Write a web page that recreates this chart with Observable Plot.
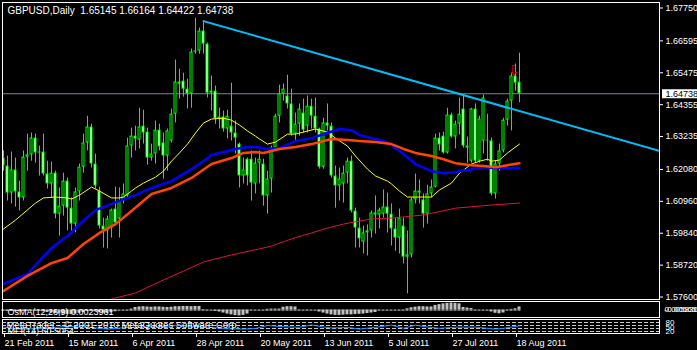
<!DOCTYPE html>
<html><head><meta charset="utf-8">
<script src="https://cdn.jsdelivr.net/npm/d3@7"></script>
<script src="https://cdn.jsdelivr.net/npm/@observablehq/plot@0.6"></script>
<style>
html,body{margin:0;padding:0;background:#000;}
#chart{position:relative;width:697px;height:350px;background:#000;overflow:hidden;}
#chart svg{position:absolute;left:0;display:block;}
</style></head><body><div id="chart"></div>
<script>
const symbol = "GBPUSD";
const timeframe = "Daily";

const opens = [
1.6248,1.6220,1.6125,1.6206,1.6129,1.6108,1.6251,1.6259,1.6318,1.6266,
1.6269,1.6192,1.6157,1.6195,1.6051,1.6079,1.6167,1.6072,1.6016,1.6129,
1.6216,1.6301,1.6357,1.6227,1.6132,1.6009,1.5992,1.6002,1.6069,1.6034,
1.6097,1.6115,1.6290,1.6325,1.6311,1.6360,1.6339,1.6248,1.6262,1.6346,
1.6301,1.6255,1.6308,1.6402,1.6515,1.6518,1.6490,1.6473,1.6620,1.6624,
1.6694,1.6648,1.6476,1.6483,1.6385,1.6392,1.6350,1.6360,1.6336,1.6297,
1.6185,1.6244,1.6244,1.6157,1.6230,1.6227,1.6115,1.6174,1.6283,1.6395,
1.6473,1.6466,1.6438,1.6332,1.6367,1.6406,1.6360,1.6430,1.6395,1.6350,
1.6216,1.6371,1.6360,1.6185,1.6150,1.6157,1.6195,1.6237,1.6062,1.6002,
1.5953,1.5985,1.5992,1.6055,1.6048,1.6051,1.6076,1.6051,1.5999,1.5967,
1.6009,1.5900,1.5908,1.6101,1.6132,1.6101,1.6051,1.6122,1.6146,1.6318,
1.6325,1.6266,1.6399,1.6322,1.6367,1.6420,1.6290,1.6237,1.6420,1.6237,
1.6308,1.6308,1.6308,1.6122,1.6227,1.6273,1.6381,1.6448,1.6536,1.65145];
const highs = [
1.6273,1.6255,1.6269,1.6248,1.6167,1.6273,1.6332,1.6336,1.6332,1.6290,
1.6332,1.6237,1.6234,1.6202,1.6143,1.6195,1.6178,1.6108,1.6143,1.6227,
1.6332,1.6395,1.6367,1.6262,1.6146,1.6037,1.6044,1.6069,1.6146,1.6143,
1.6157,1.6318,1.6353,1.6360,1.6423,1.6416,1.6353,1.6297,1.6378,1.6367,
1.6336,1.6350,1.6420,1.6592,1.6560,1.6546,1.6525,1.6631,1.6739,1.6704,
1.6729,1.6652,1.6536,1.6501,1.6423,1.6413,1.6416,1.6511,1.6378,1.6301,
1.6248,1.6248,1.6273,1.6248,1.6273,1.6244,1.6202,1.6290,1.6402,1.6504,
1.6508,1.6539,1.6490,1.6406,1.6438,1.6455,1.6466,1.6455,1.6459,1.6353,
1.6388,1.6438,1.6371,1.6220,1.6213,1.6220,1.6248,1.6255,1.6072,1.6037,
1.6009,1.6013,1.6062,1.6115,1.6072,1.6136,1.6125,1.6087,1.6037,1.6069,
1.6037,1.5992,1.6108,1.6192,1.6171,1.6122,1.6153,1.6171,1.6332,1.6336,
1.6339,1.6423,1.6406,1.6378,1.6459,1.6466,1.6322,1.6423,1.6438,1.6395,
1.6469,1.6402,1.6318,1.6237,1.6297,1.6388,1.6455,1.6546,1.6578,1.66164];
const lows = [
1.6202,1.6097,1.6087,1.6076,1.6062,1.6097,1.6202,1.6237,1.6230,1.6185,
1.6185,1.6139,1.6108,1.6034,1.5974,1.6044,1.5992,1.5981,1.5985,1.6097,
1.6195,1.6273,1.6213,1.6139,1.5999,1.5932,1.5929,1.5967,1.6009,1.5967,
1.6087,1.6108,1.6248,1.6273,1.6280,1.6297,1.6223,1.6237,1.6227,1.6273,
1.6174,1.6202,1.6301,1.6371,1.6455,1.6462,1.6420,1.6423,1.6613,1.6613,
1.6613,1.6459,1.6413,1.6367,1.6350,1.6339,1.6315,1.6308,1.6262,1.6143,
1.6157,1.6150,1.6097,1.6122,1.6157,1.6079,1.6051,1.6125,1.6273,1.6371,
1.6448,1.6420,1.6325,1.6308,1.6325,1.6336,1.6336,1.6350,1.6336,1.6209,
1.6209,1.6343,1.6178,1.6072,1.6097,1.6090,1.6157,1.6055,1.5932,1.5932,
1.5911,1.5904,1.5967,1.5981,1.5999,1.6037,1.5985,1.5939,1.5921,1.5911,
1.5876,1.5771,1.5897,1.6087,1.6087,1.6002,1.6016,1.6108,1.6143,1.6273,
1.6262,1.6262,1.6318,1.6280,1.6329,1.6283,1.6230,1.6230,1.6230,1.6230,
1.6262,1.6237,1.6115,1.6104,1.6202,1.6266,1.6360,1.6343,1.6483,1.64422];
const closes = [
1.6220,1.6125,1.6206,1.6129,1.6108,1.6251,1.6259,1.6318,1.6266,1.6269,
1.6192,1.6157,1.6195,1.6051,1.6079,1.6167,1.6072,1.6016,1.6129,1.6216,
1.6301,1.6357,1.6227,1.6150,1.6009,1.5995,1.6034,1.6065,1.6020,1.6097,
1.6122,1.6290,1.6325,1.6315,1.6357,1.6336,1.6248,1.6262,1.6346,1.6287,
1.6255,1.6343,1.6402,1.6515,1.6508,1.6490,1.6473,1.6620,1.6624,1.6694,
1.6648,1.6476,1.6483,1.6385,1.6392,1.6350,1.6395,1.6336,1.6318,1.6185,
1.6206,1.6185,1.6160,1.6230,1.6244,1.6115,1.6174,1.6283,1.6395,1.6473,
1.6490,1.6438,1.6332,1.6367,1.6420,1.6346,1.6430,1.6395,1.6350,1.6216,
1.6371,1.6360,1.6185,1.6150,1.6174,1.6195,1.6237,1.6062,1.6002,1.5964,
1.5985,1.5992,1.6055,1.6048,1.6065,1.6076,1.6051,1.5999,1.5967,1.6037,
1.5900,1.5908,1.6101,1.6132,1.6125,1.6051,1.6122,1.6146,1.6318,1.6294,
1.6266,1.6399,1.6322,1.6367,1.6402,1.6290,1.6283,1.6420,1.6237,1.6385,
1.6459,1.6311,1.6122,1.6227,1.6273,1.6381,1.6448,1.6536,1.6511,1.64738];

// moving averages, read at sampled bars
const yellowBars = [0,3,8,10,13,16,17,19,22,24,27,29,30,32,33,35,38,40,42,44,46,48,50,52,55,57,59,61,63,64,66,68,71,73,76,78,81,83,86,88,91,93,96,97,99,101,104,107,109,112,114,117,119,121,122,124,126,129];
const yellowVals = [1.5999,1.6030,1.6090,1.6108,1.6111,1.6108,1.6104,1.6118,1.6146,1.6132,1.6108,1.6108,1.6111,1.6132,1.6143,1.6160,1.6181,1.6202,1.6237,1.6266,1.6297,1.6336,1.6371,1.6385,1.6388,1.6381,1.6364,1.6343,1.6325,1.6315,1.6297,1.6304,1.6332,1.6332,1.6343,1.6350,1.6339,1.6318,1.6290,1.6255,1.6209,1.6185,1.6167,1.6157,1.6132,1.6111,1.6111,1.6111,1.6136,1.6160,1.6195,1.6227,1.6237,1.6244,1.6237,1.6241,1.6266,1.6297];
const blueBars = [0,6,12,16,19,23,27,31,33,37,42,47,50,52,55,58,61,63,66,69,73,77,81,84,87,89,92,95,97,100,103,107,110,113,117,120,123,126,129];
const blueVals = [1.5806,1.5841,1.5932,1.5974,1.6016,1.6065,1.6087,1.6108,1.6118,1.6143,1.6167,1.6209,1.6237,1.6259,1.6269,1.6280,1.6287,1.6287,1.6280,1.6283,1.6308,1.6318,1.6336,1.6350,1.6346,1.6329,1.6318,1.6308,1.6294,1.6262,1.6227,1.6202,1.6195,1.6199,1.6209,1.6216,1.6213,1.6213,1.6213];
const orangeBars = [0,6,12,16,20,24,28,32,37,42,47,52,57,60,63,65,69,73,77,79,82,86,89,93,97,100,103,107,110,113,117,120,123,126,129];
const orangeVals = [1.5781,1.5834,1.5879,1.5897,1.5946,1.5985,1.6016,1.6062,1.6122,1.6143,1.6178,1.6227,1.6248,1.6266,1.6269,1.6266,1.6280,1.6287,1.6297,1.6304,1.6315,1.6311,1.6308,1.6304,1.6297,1.6280,1.6266,1.6255,1.6244,1.6230,1.6223,1.6220,1.6216,1.6223,1.6230];
const crimsonBars = [27,33,40,45,50,57,64,67,72,77,81,85,89,92,97,105,113,122,129];
const crimsonVals = [1.5753,1.5774,1.5820,1.5851,1.5883,1.5908,1.5929,1.5939,1.5964,1.5985,1.6002,1.6016,1.6027,1.6034,1.6037,1.6048,1.6072,1.6083,1.6090];

// trend line anchors (bar, price)
const trendBars = [50, 164];
const trendPrices = [1.6729, 1.6273];
// sell arrow
const arrowBars = [128];
const arrowPrices = [1.6557];

const priceTicks = [1.6775,1.66595,1.65475,1.64355,1.63235,1.6208,1.6096,1.5984,1.5872,1.576];
const dateTickBars = [0,16,32,48,64,80,96,112,128];
const dateTickLabels = ["21 Feb 2011","15 Mar 2011","6 Apr 2011","28 Apr 2011","20 May 2011","13 Jun 2011","5 Jul 2011","27 Jul 2011","18 Aug 2011"];

const osma = [
-0.0006,-0.0008,-0.0010,-0.0010,-0.0012,-0.0010,-0.0008,-0.0006,-0.0006,-0.0008,
-0.0012,-0.0018,-0.0022,-0.0026,-0.0030,-0.0030,-0.0032,-0.0034,-0.0030,-0.0024,
-0.0018,-0.0010,-0.0008,-0.0012,-0.0018,-0.0022,-0.0024,-0.0020,-0.0012,0.0001,
0.0001,0.0002,0.0008,0.0020,0.0024,0.0026,0.0024,0.0022,0.0024,0.0024,
0.0022,0.0020,0.0022,0.0026,0.0026,0.0028,0.0028,0.0026,0.0028,0.0028,
0.0004,0.0002,0.0001,-0.0008,-0.0014,-0.0022,-0.0030,-0.0036,-0.0042,-0.0044,
-0.0040,-0.0030,-0.0002,-0.0001,0.0001,0.0001,0.0006,0.0008,0.0008,0.0008,
0.0022,0.0026,0.0026,0.0024,0.0002,0.0001,0.0002,0.0001,0.0001,-0.0014,
-0.0022,-0.0030,-0.0036,-0.0040,-0.0040,-0.0038,-0.0036,-0.0036,-0.0034,-0.0032,
-0.0030,-0.0026,-0.0022,-0.0018,-0.0002,-0.0001,0.0001,-0.0001,0.0001,0.0002,
-0.0002,0.0010,0.0018,0.0022,0.0026,0.0026,0.0024,0.0024,0.0036,0.0042,
0.0048,0.0052,0.0054,0.0052,0.0048,0.0020,0.0016,0.0012,0.0002,0.0001,
0.0001,-0.0001,-0.0014,-0.0024,-0.0028,-0.0022,0.0002,0.0006,0.0010,0.0024];
const osmaTitle = "OsMA(12,26,9) 0.0023961";
const osmaScaleLabels = ["0.005836", "-0.00565"];

const mfiBars = [0,4,10,16,21,26,30,35,40,43,47,52,56,60,63,66,70,74,77,80,82,84,86,89,93,97,100,103,106,109,113,118,123,125,129];
const mfiVals = [49,36,41,54,49,36,45,50,52,60,55,47,38,36,40,60,52,48,64,50,44,45,48,36,48,62,42,62,50,41,49,49,36,41,58];
const mfiLevels = [20,40,60,80];
const mfiScaleLabels = ["80","50","20"];
const mfiTitle = "MFI(14) 60.5054";
const copyright = "MetaTrader - \u00a9 2001-2010 MetaQuotes Software Corp.";

// ---------- build ----------
const FONT = "'Liberation Sans', Arial, sans-serif";
const f5 = d3.format(".5f");
const n = opens.length;
const candles = opens.map((o, i) => ({i, o, h: highs[i], l: lows[i], c: closes[i]}));
const pts = (bars, vals) => bars.map((b, k) => ({i: b, v: vals[k]}));
const last = candles[n - 1];
const lastClose = last.c;
const titleText = `${symbol},${timeframe} \u00a0${f5(last.o)} ${f5(last.h)} ${f5(last.l)} ${f5(last.c)}`;
const xDomain = [-0.25, 164];
const xScale = {type: "linear", domain: xDomain, range: [2, 659], axis: null};
const styleBase = {background: "transparent", color: "#fff", fontFamily: FONT, fontSize: "9px", overflow: "visible"};
const bodyX1 = d => d.i - 0.375, bodyX2 = d => d.i + 0.375;

const mainSvg = Plot.plot({
  width: 697, height: 300,
  marginLeft: 2, marginRight: 38, marginTop: 2, marginBottom: 1,
  style: styleBase,
  x: xScale,
  y: {domain: [1.576, 1.6775], range: [296.5, 7.5], label: null},
  marks: [
    Plot.ruleY([lastClose], {stroke: "#778899"}),
    Plot.ruleX(candles, {x: "i", y1: "l", y2: "h", stroke: "#00ff00", clip: true}),
    Plot.rect(candles, {x1: bodyX1, x2: bodyX2, y1: "o", y2: "c", fill: "#00ff00", clip: true}),
    Plot.rect(candles, {x1: bodyX1, x2: bodyX2, y1: "o", y2: "c", inset: 1, fill: d => d.c >= d.o ? "#000" : "#fff", clip: true}),
    Plot.line(pts(crimsonBars, crimsonVals), {x: "i", y: "v", stroke: "#dc143c", strokeWidth: 1, clip: true}),
    Plot.line(pts(yellowBars, yellowVals), {x: "i", y: "v", stroke: "#ffff00", strokeWidth: 1, clip: true}),
    Plot.line(pts(blueBars, blueVals), {x: "i", y: "v", stroke: "#0000ff", strokeWidth: 2.5, clip: true}),
    Plot.line(pts(orangeBars, orangeVals), {x: "i", y: "v", stroke: "#ff4500", strokeWidth: 2.5, clip: true}),
    Plot.line(pts(trendBars, trendPrices), {x: "i", y: "v", stroke: "#00bfff", strokeWidth: 2, clip: true}),
    Plot.text(pts(arrowBars, arrowPrices), {x: "i", y: "v", text: () => "\u21e9", fill: "#ff0000", fontSize: 14, fontFamily: "DejaVu Sans", dx: -2}),
    Plot.axisY({anchor: "right", ticks: priceTicks, tickFormat: f5, tickSize: 3, tickPadding: 3, label: null, fontSize: 9}),
    Plot.ruleY([lastClose], {x1: xDomain[1] + 0.75, x2: xDomain[1] + 9.5, stroke: "#fff", strokeWidth: 9}),
    Plot.text([lastClose], {y: d => d, text: d => f5(d), frameAnchor: "right", dx: 6, textAnchor: "start", fill: "#000", fontSize: 9}),
    Plot.text([titleText], {frameAnchor: "top-left", dx: 5, dy: 4.5, textAnchor: "start", lineAnchor: "top", fill: "#fff", fontSize: 10}),
    Plot.frame({stroke: "#fff"})
  ]
});

const osmaSvg = Plot.plot({
  width: 697, height: 18,
  marginLeft: 2, marginRight: 38, marginTop: 1, marginBottom: 1,
  style: styleBase,
  x: xScale,
  y: {domain: [-0.0056, 0.0058], range: [17, 2], axis: null},
  marks: [
    Plot.ruleY([0], {x1: -0.375, x2: n - 1 + 0.375, stroke: "#c0c0c0", strokeDasharray: "3,1"}),
    Plot.rect(osma.map((v, i) => ({i, v})), {x1: bodyX1, x2: bodyX2, y1: 0, y2: "v", fill: "#c0c0c0"}),
    Plot.text([osmaTitle], {frameAnchor: "top-left", dx: 5, dy: 7, textAnchor: "start", lineAnchor: "top", fill: "#fff", fontSize: 9}),
    Plot.text(osmaScaleLabels, {frameAnchor: "right", dx: 5, textAnchor: "start", fill: "#fff", fontSize: 8}),
    Plot.frame({stroke: "#fff"})
  ]
});

const mfiSvg = Plot.plot({
  width: 697, height: 32,
  marginLeft: 2, marginRight: 38, marginTop: 1, marginBottom: 17,
  style: styleBase,
  x: xScale,
  y: {domain: [0, 100], range: [16, 1], axis: null},
  marks: [
    Plot.ruleY(mfiLevels, {stroke: "#c8c8c8", strokeDasharray: "4,2"}),
    Plot.line(pts(mfiBars, mfiVals), {x: "i", y: "v", stroke: "#1e90ff", strokeWidth: 1}),
    Plot.text([copyright], {frameAnchor: "top-left", dx: 4, dy: 2, textAnchor: "start", lineAnchor: "top", fill: "#fff", fontSize: 9.5}),
    Plot.text([mfiTitle], {frameAnchor: "top-left", dx: 5, dy: 8.5, textAnchor: "start", lineAnchor: "top", fill: "#fff", fontSize: 9}),
    Plot.text(mfiScaleLabels, {y: d => +d, frameAnchor: "right", dx: 6, textAnchor: "start", fill: "#fff", fontSize: 8}),
    Plot.axisX({anchor: "bottom", ticks: dateTickBars, tickFormat: d => dateTickLabels[dateTickBars.indexOf(d)], tickSize: 4, tickPadding: 2, textAnchor: "start", dx: 1, label: null, fontSize: 9}),
    Plot.frame({stroke: "#fff"})
  ]
});

const chart = document.getElementById("chart");
mainSvg.style.top = "0px";
osmaSvg.style.top = "300px";
mfiSvg.style.top = "318px";
chart.append(mainSvg, osmaSvg, mfiSvg);
</script>
</body></html>
